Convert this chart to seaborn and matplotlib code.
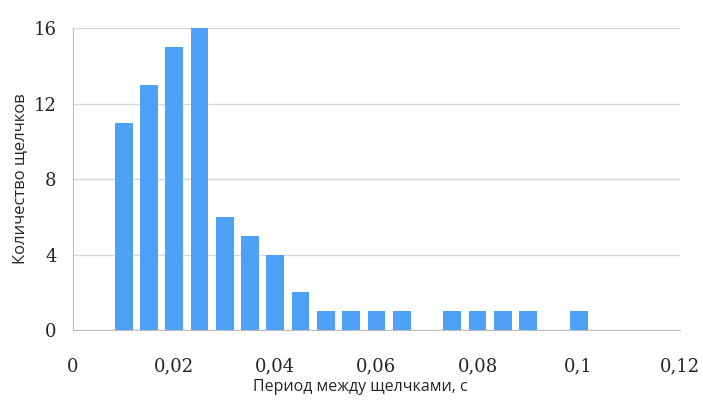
import pandas as pd
import numpy as np
import matplotlib.pyplot as plt
import seaborn as sns

# bin centres (s) and click counts
period = [0.010, 0.015, 0.020, 0.025, 0.030, 0.035, 0.040, 0.045, 0.050,
          0.055, 0.060, 0.065, 0.075, 0.080, 0.085, 0.090, 0.100]
clicks = [11, 13, 15, 16, 6, 5, 4, 2, 1, 1, 1, 1, 1, 1, 1, 1, 1]

x_ticks = [0, 0.02, 0.04, 0.06, 0.08, 0.1, 0.12]
x_labels = ['0', '0,02', '0,04', '0,06', '0,08', '0,1', '0,12']
y_ticks = [0, 4, 8, 12, 16]

df = pd.DataFrame({'period': period, 'clicks': clicks})

sns.set_style('white')
fig = plt.figure(figsize=(7.03, 4.08), dpi=100)
ax = fig.add_axes([0.104, 0.191, 0.863, 0.740])

ax.grid(axis='y', color='#d9d9d9', linewidth=1)
ax.set_axisbelow(True)

sns.barplot(data=df, x='period', y='clicks', native_scale=True, width=0.7,
            color='#4da2f7', saturation=1, linewidth=0, ax=ax)

ax.set_xlim(0, 0.12)
ax.set_ylim(0, 16)
ax.set_xticks(x_ticks)
ax.set_xticklabels(x_labels)
ax.set_yticks(y_ticks)
ax.set_yticks([2, 6, 10, 14], minor=True)

for s in ['top', 'right']:
    ax.spines[s].set_visible(False)
for s in ['left', 'bottom']:
    ax.spines[s].set_color('#bfbfbf')

ax.tick_params(axis='x', direction='out', length=4, color='#bfbfbf', pad=16,
               labelsize=13)
ax.tick_params(axis='y', which='major', length=0, pad=12, labelsize=13)
ax.tick_params(axis='y', which='minor', direction='in', length=3, color='#bfbfbf')
for lab in ax.get_xticklabels() + ax.get_yticklabels():
    lab.set_family('DejaVu Serif')

ax.set_xlabel('Период между щелчками, с', fontsize=11.5, family='Open Sans')
ax.xaxis.set_label_coords(0.474, -0.163)
ax.set_ylabel('Количество щелчков', fontsize=12, family='Open Sans', labelpad=4)

fig.savefig('out.png', dpi=100)
